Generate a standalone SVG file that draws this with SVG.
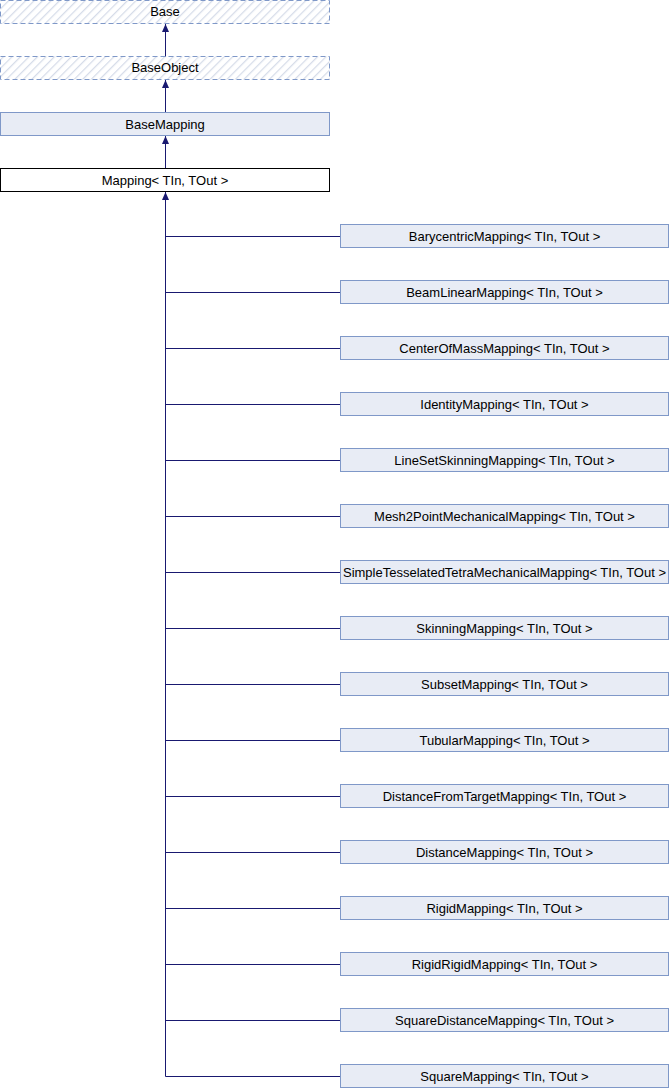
<svg xmlns="http://www.w3.org/2000/svg" width="670" height="1088" viewBox="0 0 670 1088">
<style>
.n{fill:#e8ecf5;stroke:#7f98c8;stroke-width:1}
.h{fill:url(#hatch);stroke:#7f98c8;stroke-width:1;stroke-dasharray:5,3}
.w{fill:#ffffff;stroke:#000000;stroke-width:1}
text{font-family:"Liberation Sans",Arial,sans-serif;font-size:13px;fill:#000;text-anchor:middle}
.e{stroke:#191970;stroke-width:1;fill:none}
.a{fill:#191970}
</style>
<defs>
<pattern id="hatch" patternUnits="userSpaceOnUse" width="6" height="6" patternTransform="rotate(45)">
<rect width="6" height="6" fill="#ffffff"/>
<line x1="0" y1="0" x2="0" y2="6" stroke="#d6dce9" stroke-width="2.5"/>
</pattern>
</defs>
<g id="edges">
<path class="e" d="M165.5,57 V24"/>
<path class="e" d="M165.5,112 V80"/>
<path class="e" d="M165.5,168 V136"/>
<path class="e" d="M165.5,1076.5 V192"/>
<path class="a" d="M165.5,24 l3.5,8 h-7 z"/>
<path class="a" d="M165.5,80 l3.5,8 h-7 z"/>
<path class="a" d="M165.5,136 l3.5,8 h-7 z"/>
<path class="a" d="M165.5,192 l3.5,8 h-7 z"/>
<path class="e" d="M165.5,236.5 H340 M165.5,292.5 H340 M165.5,348.5 H340 M165.5,404.5 H340 M165.5,460.5 H340 M165.5,516.5 H340 M165.5,572.5 H340 M165.5,628.5 H340 M165.5,684.5 H340 M165.5,740.5 H340 M165.5,796.5 H340 M165.5,852.5 H340 M165.5,908.5 H340 M165.5,964.5 H340 M165.5,1020.5 H340 M165.5,1076.5 H340"/>
</g>
<g id="Base"><rect class="h" x="0.5" y="0.5" width="329" height="23"/><text x="165" y="16">Base</text></g>
<g id="BaseObject"><rect class="h" x="0.5" y="56.5" width="329" height="23"/><text x="165" y="72">BaseObject</text></g>
<g id="BaseMapping"><rect class="n" x="0.5" y="112.5" width="329" height="23"/><text x="165" y="129">BaseMapping</text></g>
<g id="Mapping"><rect class="w" x="0.5" y="168.5" width="329" height="23"/><text x="165" y="185">Mapping&lt; TIn, TOut &gt;</text></g>
<g id="c0"><rect class="n" x="340.5" y="224.5" width="328" height="23"/><text x="504.5" y="241">BarycentricMapping&lt; TIn, TOut &gt;</text></g>
<g id="c1"><rect class="n" x="340.5" y="280.5" width="328" height="23"/><text x="504.5" y="297">BeamLinearMapping&lt; TIn, TOut &gt;</text></g>
<g id="c2"><rect class="n" x="340.5" y="336.5" width="328" height="23"/><text x="504.5" y="353">CenterOfMassMapping&lt; TIn, TOut &gt;</text></g>
<g id="c3"><rect class="n" x="340.5" y="392.5" width="328" height="23"/><text x="504.5" y="409">IdentityMapping&lt; TIn, TOut &gt;</text></g>
<g id="c4"><rect class="n" x="340.5" y="448.5" width="328" height="23"/><text x="504.5" y="465">LineSetSkinningMapping&lt; TIn, TOut &gt;</text></g>
<g id="c5"><rect class="n" x="340.5" y="504.5" width="328" height="23"/><text x="504.5" y="521">Mesh2PointMechanicalMapping&lt; TIn, TOut &gt;</text></g>
<g id="c6"><rect class="n" x="340.5" y="560.5" width="328" height="23"/><text x="504.5" y="577">SimpleTesselatedTetraMechanicalMapping&lt; TIn, TOut &gt;</text></g>
<g id="c7"><rect class="n" x="340.5" y="616.5" width="328" height="23"/><text x="504.5" y="633">SkinningMapping&lt; TIn, TOut &gt;</text></g>
<g id="c8"><rect class="n" x="340.5" y="672.5" width="328" height="23"/><text x="504.5" y="689">SubsetMapping&lt; TIn, TOut &gt;</text></g>
<g id="c9"><rect class="n" x="340.5" y="728.5" width="328" height="23"/><text x="504.5" y="745">TubularMapping&lt; TIn, TOut &gt;</text></g>
<g id="c10"><rect class="n" x="340.5" y="784.5" width="328" height="23"/><text x="504.5" y="801">DistanceFromTargetMapping&lt; TIn, TOut &gt;</text></g>
<g id="c11"><rect class="n" x="340.5" y="840.5" width="328" height="23"/><text x="504.5" y="857">DistanceMapping&lt; TIn, TOut &gt;</text></g>
<g id="c12"><rect class="n" x="340.5" y="896.5" width="328" height="23"/><text x="504.5" y="913">RigidMapping&lt; TIn, TOut &gt;</text></g>
<g id="c13"><rect class="n" x="340.5" y="952.5" width="328" height="23"/><text x="504.5" y="969">RigidRigidMapping&lt; TIn, TOut &gt;</text></g>
<g id="c14"><rect class="n" x="340.5" y="1008.5" width="328" height="23"/><text x="504.5" y="1025">SquareDistanceMapping&lt; TIn, TOut &gt;</text></g>
<g id="c15"><rect class="n" x="340.5" y="1064.5" width="328" height="23"/><text x="504.5" y="1081">SquareMapping&lt; TIn, TOut &gt;</text></g>
</svg>
